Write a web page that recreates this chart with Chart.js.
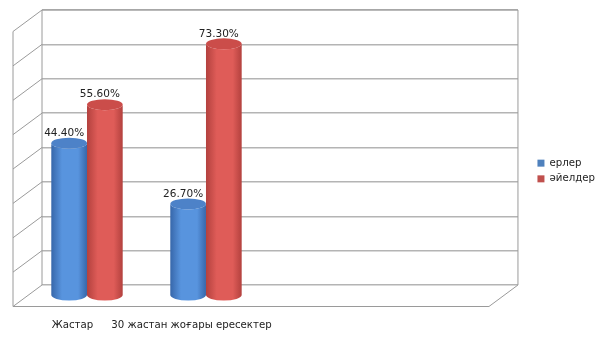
<!DOCTYPE html>
<html>
<head>
<meta charset="utf-8">
<script src="https://cdn.jsdelivr.net/npm/chart.js@4"></script>
<style>
  html, body { margin: 0; padding: 0; background: #fff; }
  #wrap { width: 605px; height: 340px; }
</style>
</head>
<body>
<div id="wrap"><canvas id="myChart"></canvas></div>
<script>
const categories = ['Жастар', '30 жастан жоғары ересектер', '', ''];
const erler = [44.4, 26.7, null, null];
const aielder = [55.6, 73.3, null, null];
const yTicks = [0, 10, 20, 30, 40, 50, 60, 70, 80];

// depth of the 3d box (back wall -> front edge)
const DX = -29, DY = 21.5;
const font = 'DejaVu Sans';

const box3d = {
    id: 'box3d',
    beforeDraw(chart) {
        // push the legend a little to the right, away from the box
        const l = chart.legend;
        if (l && !l._shifted) {
            l.left += 14; l.right += 14;
            l._shifted = true;
        }
    },
    beforeDatasetsDraw(chart) {
        const c = chart.ctx, a = chart.chartArea;
        const ys = chart.scales.y;
        c.save();
        c.strokeStyle = '#9a9a9a';
        c.lineWidth = 1;
        // back wall frame
        c.beginPath();
        c.moveTo(a.left, a.bottom); c.lineTo(a.left, a.top);
        c.lineTo(a.right, a.top); c.lineTo(a.right, a.bottom);
        c.stroke();
        // left wall
        c.beginPath();
        yTicks.forEach(v => {
            const y = ys.getPixelForValue(v);
            c.moveTo(a.left, y); c.lineTo(a.left + DX, y + DY);
        });
        c.moveTo(a.left + DX, a.top + DY); c.lineTo(a.left + DX, a.bottom + DY);
        // floor
        c.moveTo(a.left + DX, a.bottom + DY); c.lineTo(a.right + DX, a.bottom + DY);
        c.lineTo(a.right, a.bottom);
        c.stroke();

        // cylinders
        const cols = [
            { edge: '#3767aa', light: '#5894de', top: '#4d82c8' },
            { edge: '#b3413e', light: '#df5c58', top: '#cb4d4a' }
        ];
        chart.data.datasets.forEach((ds, di) => {
            const meta = chart.getDatasetMeta(di);
            meta.data.forEach((bar, i) => {
                if (ds.data[i] == null) return;
                const p = bar.getProps(['x', 'y', 'base', 'width'], true);
                const cx = p.x + DX / 2, rx = p.width / 2, ry = 5.5;
                const ty = p.y + DY / 2, by = p.base + DY / 2;
                const g = c.createLinearGradient(cx - rx, 0, cx + rx, 0);
                g.addColorStop(0, cols[di].edge);
                g.addColorStop(0.3, cols[di].light);
                g.addColorStop(0.75, cols[di].light);
                g.addColorStop(1, cols[di].edge);
                c.fillStyle = g;
                c.beginPath();
                c.moveTo(cx - rx, ty);
                c.lineTo(cx - rx, by);
                c.ellipse(cx, by, rx, ry, 0, Math.PI, 0, true);
                c.lineTo(cx + rx, ty);
                c.ellipse(cx, ty, rx, ry, 0, 0, Math.PI, false);
                c.fill();
                c.fillStyle = cols[di].top;
                c.beginPath();
                c.ellipse(cx, ty, rx, ry, 0, 0, Math.PI * 2);
                c.fill();
                // value label
                c.fillStyle = '#222';
                c.font = '10.5px "' + font + '"';
                c.textAlign = 'center';
                c.textBaseline = 'middle';
                c.fillText(ds.data[i].toFixed(2) + '%', cx - 5, ty - 10);
            });
        });
        c.restore();
        return false;
    }
};

new Chart(document.getElementById('myChart'), {
    type: 'bar',
    data: {
        labels: categories,
        datasets: [
            { label: 'ерлер', data: erler, backgroundColor: '#4f81bd' },
            { label: 'әйелдер', data: aielder, backgroundColor: '#c0504d' }
        ]
    },
    options: {
        responsive: true,
        maintainAspectRatio: false,
        animation: false,
        categoryPercentage: 0.6,
        barPercentage: 1,
        layout: { padding: { left: 42, top: 10, right: 14, bottom: 8 } },
        plugins: {
            tooltip: { enabled: false },
            legend: {
                position: 'right',
                labels: {
                    boxWidth: 7, boxHeight: 7, padding: 5.5,
                    color: '#222',
                    font: { family: font, size: 10.2 }
                }
            }
        },
        scales: {
            x: {
                grid: { display: false, drawTicks: false },
                border: { display: false },
                ticks: {
                    autoSkip: false, maxRotation: 0, minRotation: 0,
                    padding: 34, labelOffset: DX,
                    color: '#222',
                    font: { family: font, size: 10.2 }
                },
                afterFit(s) { s.height = 47; }
            },
            y: {
                min: 0, max: 80,
                ticks: { display: false, stepSize: 10 },
                grid: { color: '#b4b4b4', lineWidth: 1.5, drawTicks: false },
                border: { display: false },
                afterFit(s) { s.width = 0; }
            }
        }
    },
    plugins: [box3d]
});
</script>
</body>
</html>
